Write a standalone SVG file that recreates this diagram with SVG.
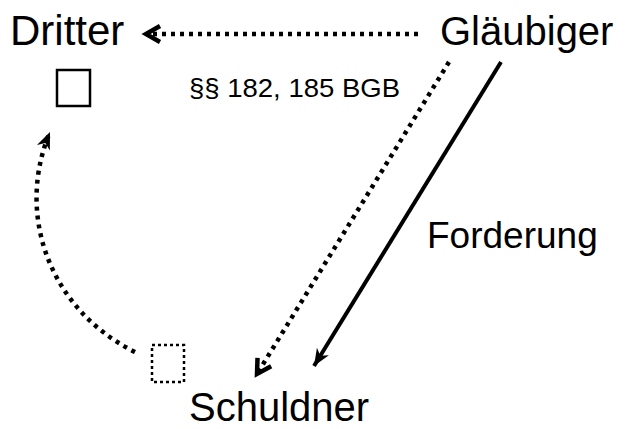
<svg xmlns="http://www.w3.org/2000/svg" width="633" height="429" viewBox="0 0 633 429">
<style>
text{font-family:"Liberation Sans",Arial,sans-serif;fill:#000}
.big{font-size:40px}
.small{font-size:26px}
.lbl{font-size:37px}
.dot{fill:none;stroke:#000;stroke-width:4.5;stroke-dasharray:4 5}
.solid{fill:none;stroke:#000;stroke-width:4}
</style>
<defs>
<marker id="chev" markerUnits="userSpaceOnUse" viewBox="-20 -12 26 24" markerWidth="26" markerHeight="24" refX="0" refY="0" orient="auto" overflow="visible">
<path d="M-14,-8 L0,0 L-14,8" fill="none" stroke="#000" stroke-width="4.5" stroke-linejoin="miter" stroke-dasharray="none"/>
</marker>
<marker id="tri" markerUnits="userSpaceOnUse" viewBox="-20 -12 26 24" markerWidth="26" markerHeight="24" refX="0" refY="0" orient="auto" overflow="visible">
<path d="M0,0 L-17,-7 L-12,0 L-17,7 Z" fill="#000" stroke="none"/>
</marker>
</defs>
<g id="connectors">
<path class="dot" d="M418,34 L146,34" marker-end="url(#chev)"/>
<path class="dot" d="M449,62 L257,374" marker-end="url(#chev)"/>
<path class="solid" d="M501,62 L314,366" marker-end="url(#tri)"/>
<path class="dot" d="M135,352 C50,310 15,215 50,132" marker-end="url(#tri)"/>
</g>
<g id="dritter"><text class="big" x="10" y="45" style="font-size:42px">Dritter</text></g>
<g id="glaeubiger"><text class="big" x="440" y="45">Gläubiger</text></g>
<g id="schuldner"><text class="big" x="189" y="421">Schuldner</text></g>
<g id="box-dritter"><rect x="57" y="70" width="33" height="36" fill="none" stroke="#000" stroke-width="2.5"/></g>
<g id="box-schuldner"><rect x="152" y="345" width="32" height="37" fill="none" stroke="#000" stroke-width="2.5" stroke-dasharray="3 3"/></g>
<g id="label-bgb"><text class="small" x="189" y="97" textLength="211" lengthAdjust="spacingAndGlyphs">§§ 182, 185 BGB</text></g>
<g id="label-forderung"><text class="lbl" x="427" y="248">Forderung</text></g>
</svg>
